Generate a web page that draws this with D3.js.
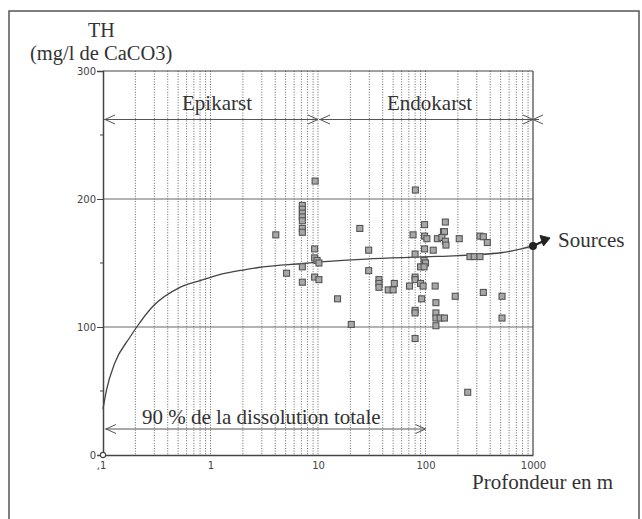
<!DOCTYPE html>
<html><head><meta charset="utf-8">
<script src="https://cdn.jsdelivr.net/npm/d3@7"></script>
<style>body{margin:0;background:#fff}svg{display:block}</style>
</head><body>
<svg id="c" width="642" height="519"></svg>
<script>
// ---- data ----
const depthPoints = [4.05,5.1,7.15,7.15,7.15,7.15,7.15,7.15,7.15,7.15,7.15,9.4,9.3,9.3,9.8,10.2,9.3,10.2,
  15.2,20.4,24.5,29.6,29.6,36.9,36.9,36.9,45,50,51.3,71,80.5,76.6,80,80,80,80,80,80,
  98,98,103,98,97,100,90,97,90,95,92,129,118,123,125,125,125,137,150,125,
  153,147,150,142,153,155,206,321,345,376,259,284,321,189,345,515,515,247];
const thPoints = [172,142,195,192,189,186,183,177,174,147,135,214,161,154,152,150,139,137,
  122,102,177,160,144,137,134,131,129,129,134,132,207,172,157,139,137,113,111,91,
  180,171,169,161,152,150,147,147,134,132,122,169,160,132,119,111,107,107,107,101,
  182,174.5,174.5,170,167,164,169,171,170.5,166,155,155,155,124,127,124,107,49];
const curveDepth = [0.1,0.104,0.108,0.129,0.178,0.206,0.29,0.52,0.8,1.17,2.0,3.1,7.3,10.4,28,126,506,1000];
const curveTH    = [36,44,51,72,92,100,116,131,136.3,140.6,144.5,146.9,149.6,150.8,153.1,155.1,158,163.3];
const xTickValues = [0.1,1,10,100,1000];
const xTickLabels = [",1","1","10","100","1000"];
const yTickValues = [0,100,200,300];
const yMinorTicks = [50,150,250];
const zones = [{name:"Epikarst",from:0.1,to:10,labelX:182},{name:"Endokarst",from:10,to:1000,labelX:387}];

// ---- layout ----
const svg = d3.select("#c");
const x = d3.scaleLog().domain([0.1,1000]).range([103,533]);
const y = d3.scaleLinear().domain([0,300]).range([455,71]);
const serif = "'Liberation Serif','Times New Roman',serif";
const ink = "#333";

// outer frame
svg.append("rect").attr("x",9).attr("y",11).attr("width",630).attr("height",540)
  .attr("fill","none").attr("stroke","#555").attr("stroke-width",1.5);

// vertical log grid (dotted)
const gridVals = [];
for (let d=0.1; d<1000; d*=10) for (let k=1;k<=9;k++){const v=+(d*k).toPrecision(3); if(v>0.1 && v<1000) gridVals.push(v);}
svg.append("g").selectAll("line").data(gridVals).join("line")
  .attr("x1",d=>x(d)).attr("x2",d=>x(d)).attr("y1",y(300)).attr("y2",y(0))
  .attr("stroke","#555").attr("stroke-width",0.9).attr("stroke-dasharray","1,1.6");

// horizontal grid
svg.append("g").selectAll("line").data([100,200]).join("line")
  .attr("x1",x(0.1)).attr("x2",x(1000)).attr("y1",d=>y(d)).attr("y2",d=>y(d))
  .attr("stroke","#666").attr("stroke-width",1);

// plot frame top & right
svg.append("line").attr("x1",x(0.1)).attr("x2",x(1000)).attr("y1",y(300)).attr("y2",y(300)).attr("stroke","#444").attr("stroke-width",1.2);
svg.append("line").attr("x1",x(1000)).attr("x2",x(1000)).attr("y1",y(300)).attr("y2",y(0)).attr("stroke","#444").attr("stroke-width",1.2);

// y axis
const yAxis = d3.axisLeft(y).tickValues(yTickValues).tickSize(6).tickFormat(d3.format("d"));
const gy = svg.append("g").attr("transform",`translate(${x(0.1)},0)`).call(yAxis);
gy.select(".domain").attr("stroke","#444").attr("stroke-width",1.5);
gy.selectAll(".tick line").attr("stroke","#444");
gy.selectAll(".tick text").attr("font-family","'DejaVu Sans',sans-serif").attr("font-size",10).attr("fill","#444").attr("x",-7);
gy.selectAll(".minor").data(yMinorTicks).join("line").attr("class","minor")
  .attr("x1",-3).attr("x2",0).attr("y1",d=>y(d)).attr("y2",d=>y(d)).attr("stroke","#444");

// x axis
const xAxis = d3.axisBottom(x).tickValues(xTickValues).tickSize(0).tickFormat((d,i)=>xTickLabels[i]);
const gx = svg.append("g").attr("transform",`translate(0,${y(0)})`).call(xAxis);
gx.select(".domain").attr("stroke","#444").attr("stroke-width",1.5);
gx.selectAll(".tick text").attr("font-family","'DejaVu Sans',sans-serif").attr("font-size",10).attr("fill","#444").attr("dy","1.05em");
gx.selectAll(".tick text").filter((d,i)=>i===0).attr("dx",-2);

// origin circle
svg.append("circle").attr("cx",x(0.1)).attr("cy",y(0)).attr("r",2.6).attr("fill","#fff").attr("stroke","#444").attr("stroke-width",1.1);

// curve
const curvePts = curveDepth.map((d,i)=>[x(d),y(curveTH[i])]);
svg.append("path").attr("d",d3.line().curve(d3.curveMonotoneX)(curvePts))
  .attr("fill","none").attr("stroke","#444").attr("stroke-width",1.3);

// points
svg.append("g").selectAll("rect").data(depthPoints.map((d,i)=>[d,thPoints[i]])).join("rect")
  .attr("x",d=>x(d[0])-3).attr("y",d=>y(d[1])-3).attr("width",6).attr("height",6)
  .attr("fill","#a8a8a8").attr("stroke","#555").attr("stroke-width",1.1);

// chevron helper
function chevron(px,py,dir){
  const L=10,H=4.5;
  svg.append("path").attr("d",`M${px-dir*L},${py-H}L${px},${py}L${px-dir*L},${py+H}`)
    .attr("fill","none").attr("stroke","#555").attr("stroke-width",1);
}
// zones
const zy = 119.5;
zones.forEach(z=>{
  svg.append("line").attr("x1",x(z.from)+1).attr("x2",x(z.to)).attr("y1",zy).attr("y2",zy).attr("stroke","#555").attr("stroke-width",1);
  chevron(x(z.from)+2,zy,-1);
  chevron(x(z.to),zy,1);
  svg.append("text").attr("x",z.labelX).attr("y",110)
    .attr("font-family",serif).attr("font-size",21).attr("fill",ink).text(z.name);
});
chevron(x(1000),zy,-1);
svg.append("line").attr("x1",x(1000)).attr("x2",x(1000)+6).attr("y1",zy).attr("y2",zy).attr("stroke","#555");

// 90% arrow
const ay = 429;
svg.append("line").attr("x1",x(0.1)+2).attr("x2",x(100)).attr("y1",ay).attr("y2",ay).attr("stroke","#555").attr("stroke-width",1);
chevron(x(0.1)+3,ay,-1);
chevron(x(100),ay,1);
svg.append("text").attr("x",142).attr("y",424).attr("font-family",serif).attr("font-size",21).attr("fill",ink)
  .text("90 % de la dissolution totale");

// sources
const sx = x(1000), sy = y(163.3);
svg.append("circle").attr("cx",sx).attr("cy",sy).attr("r",4).attr("fill","#222");
svg.append("line").attr("x1",sx).attr("y1",sy).attr("x2",sx+13).attr("y2",sy-6).attr("stroke","#222").attr("stroke-width",2.4);
svg.append("path").attr("d",`M${sx+7},${sy-10.5}L${sx+17},${sy-8}L${sx+10.5},${sy}Z`).attr("fill","#222").attr("stroke","#222").attr("stroke-width",1);
svg.append("text").attr("x",558).attr("y",247).attr("font-family",serif).attr("font-size",21).attr("fill",ink).text("Sources");

// titles
svg.append("text").attr("x",88).attr("y",37).attr("font-family",serif).attr("font-size",20).attr("fill",ink).text("TH");
svg.append("text").attr("x",30).attr("y",60).attr("font-family",serif).attr("font-size",20.5).attr("fill",ink).text("(mg/l de CaCO3)");
svg.append("text").attr("x",472).attr("y",489).attr("font-family",serif).attr("font-size",21).attr("fill",ink).text("Profondeur en m");
</script>
</body></html>
